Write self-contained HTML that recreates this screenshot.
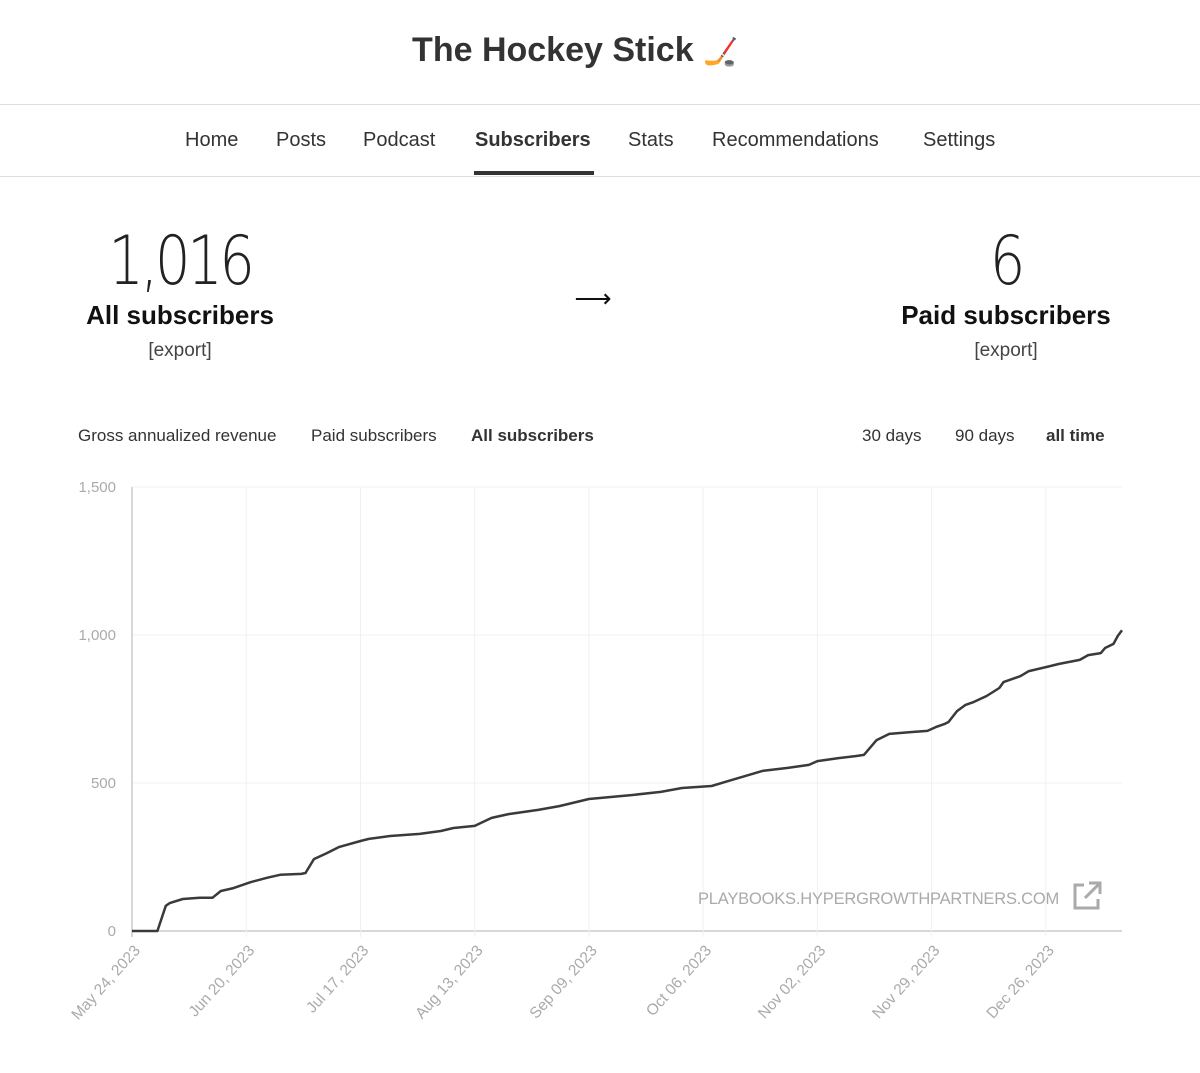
<!DOCTYPE html>
<html><head><meta charset="utf-8">
<style>
body{margin:0;width:1200px;height:1073px;background:#fff;font-family:"Liberation Sans",sans-serif;position:relative;overflow:hidden;color:#222}
.abs{position:absolute}
.nav a{position:absolute;top:129px;font-size:20px;color:#333;text-decoration:none}
.tab{position:absolute;top:426px;font-size:17px;color:#333}
.big{text-align:center;font-size:68px;color:#222;font-family:'DejaVu Sans',sans-serif;font-weight:200;transform:scaleX(0.82);letter-spacing:-4px}
</style></head><body>
<div class="abs" style="left:0;width:1150px;top:31px;text-align:center;font-size:34px;font-weight:bold;color:#333">The Hockey Stick <span style="font-size:28px">🏒</span></div>
<div class="abs" style="left:0;top:104px;width:1200px;height:1px;background:#ddd"></div>
<div class="nav">
<a style="left:185px">Home</a>
<a style="left:276px">Posts</a>
<a style="left:363px">Podcast</a>
<a style="left:475px;font-weight:bold">Subscribers</a>
<a style="left:628px">Stats</a>
<a style="left:712px">Recommendations</a>
<a style="left:923px">Settings</a>
</div>
<div class="abs" style="left:474px;top:171px;width:120px;height:4px;background:#333"></div>
<div class="abs" style="left:0;top:176px;width:1200px;height:1px;background:#ddd"></div>

<div class="abs big" style="left:30px;width:300px;top:222px">1,016</div>
<div class="abs" style="left:30px;width:300px;top:300px;text-align:center;font-size:26px;font-weight:bold;color:#111">All subscribers</div>
<div class="abs" style="left:30px;width:300px;top:340px;text-align:center;font-size:19px;color:#444">[export]</div>
<div class="abs" style="left:568px;width:50px;top:283px;text-align:center;font-size:26px;color:#111">⟶</div>
<div class="abs big" style="left:856px;width:300px;top:222px">6</div>
<div class="abs" style="left:856px;width:300px;top:300px;text-align:center;font-size:26px;font-weight:bold;color:#111">Paid subscribers</div>
<div class="abs" style="left:856px;width:300px;top:340px;text-align:center;font-size:19px;color:#444">[export]</div>

<div class="tab" style="left:78px">Gross annualized revenue</div>
<div class="tab" style="left:311px">Paid subscribers</div>
<div class="tab" style="left:471px;font-weight:bold">All subscribers</div>
<div class="tab" style="left:862px">30 days</div>
<div class="tab" style="left:955px">90 days</div>
<div class="tab" style="left:1046px;font-weight:bold">all time</div>

<svg class="abs" style="left:0;top:0" width="1200" height="1073" id="chart"></svg>
<div class="abs" style="left:698px;top:890px;font-size:16.5px;color:#aaa;letter-spacing:-0.2px">PLAYBOOKS.HYPERGROWTHPARTNERS.COM</div>
<svg class="abs" style="left:1072px;top:881px" width="30" height="30" viewBox="0 0 30 30"><path d="M12 4H3v23h23v-9" fill="none" stroke="#aaa" stroke-width="3"/><path d="M17 2h11v11M28 2L13 17" fill="none" stroke="#aaa" stroke-width="3"/></svg>

<script>
const days=[0,6,8,9,12,16,19,21,24,28,32,35,40,41,43,46,49,54,56,61,68,73,76,81,85,89,96,101,108,118,125,130,137,141,145,149,155,160,162,167,171,173,176,179,184,188,190,192,193,195,197,199,202,205,206,210,212,217,219,224,226,229,230,232,233,234];
const values=[0,0,85,95,108,112,112,135,145,165,180,190,193,196,243,263,284,304,311,321,328,338,348,355,382,395,409,422,446,459,470,483,490,507,524,541,551,561,574,584,591,595,645,666,672,676,689,699,706,743,764,774,794,821,841,861,878,895,902,916,932,939,956,970,997,1016];
const yTicks=[0,500,1000,1500];
const yTickLabels=["0","500","1,000","1,500"];
const xTickDays=[0,27,54,81,108,135,162,189,216];
const xTickLabels=["May 24, 2023","Jun 20, 2023","Jul 17, 2023","Aug 13, 2023","Sep 09, 2023","Oct 06, 2023","Nov 02, 2023","Nov 29, 2023","Dec 26, 2023"];
const X0=132,X1=1122,D1=234,Y0=931,Y1=487,V1=1500;
const xs=d=>X0+(X1-X0)*d/D1, ys=v=>Y0-(Y0-Y1)*v/V1;
const svg=document.getElementById('chart'),NS='http://www.w3.org/2000/svg';
function mk(t,a){const e=document.createElementNS(NS,t);for(const k in a)e.setAttribute(k,a[k]);svg.appendChild(e);return e;}
yTicks.forEach((v,i)=>{
  const g=mk('line',{x1:X0,x2:X1,y1:ys(v),y2:ys(v),stroke:v===0?'#ccc':'#f0f0f0','stroke-width':v===0?1.5:1});
  
  
  const t=mk('text',{x:116,y:ys(v)+5,'text-anchor':'end','font-size':15,fill:'#aaa','font-family':'Liberation Sans, sans-serif'});
  t.textContent=yTickLabels[i];
  
  
});
xTickDays.forEach((d,i)=>{
  const x=xs(d);
  const g=mk('line',{x1:x,x2:x,y1:Y1,y2:Y0+6,stroke:i===0?'#ccc':'#f0f0f0','stroke-width':i===0?1.5:1});
  
  
  const t=mk('text',{x:x+9,y:Y0+20,'text-anchor':'end','font-size':15.5,fill:'#aaa','font-family':'Liberation Sans, sans-serif',transform:`rotate(-48 ${x+9} ${Y0+20})`});
  t.textContent=xTickLabels[i];
  
  
});
const p=mk('path',{d:days.map((d,i)=>(i?'L':'M')+xs(d).toFixed(1)+' '+ys(values[i]).toFixed(1)).join(''),fill:'none',stroke:'#3a3a3a','stroke-width':2.5,'stroke-linejoin':'round'});


</script>
</body></html>
